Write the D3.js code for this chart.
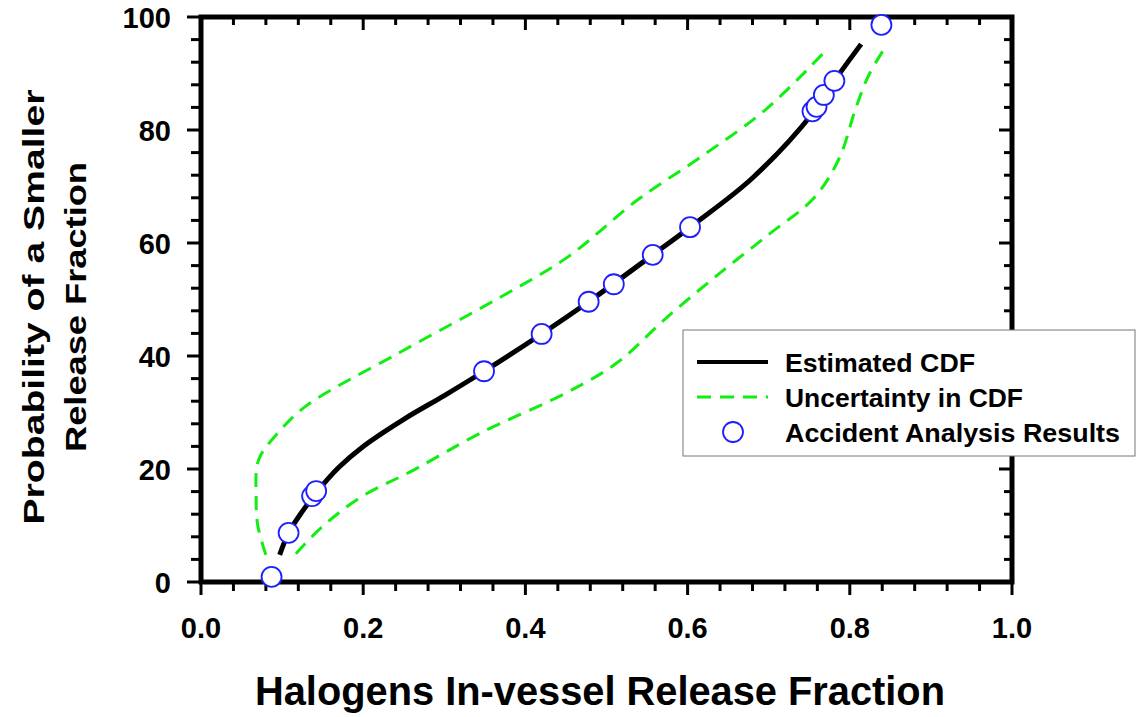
<!DOCTYPE html>
<html>
<head>
<meta charset="utf-8">
<script src="https://cdn.jsdelivr.net/npm/d3@7"></script>
<style>
  body { margin: 0; background: #fff; }
  text { font-family: Arial, "Liberation Sans", sans-serif; font-weight: bold; }
</style>
</head>
<body>
<svg width="1138" height="717"></svg>
<script>
// estimated CDF curve
const cdfX = [0.097, 0.108, 0.125, 0.145, 0.170, 0.200, 0.250, 0.300, 0.349, 0.42, 0.478, 0.557, 0.603, 0.68, 0.755, 0.781, 0.814];
const cdfY = [4.8, 8.7, 12.5, 16.3, 20.3, 24.0, 28.8, 33.0, 37.3, 43.9, 49.6, 57.9, 62.8, 71.5, 83.1, 88.7, 95.2];
// upper uncertainty bound
const upX = [0.080, 0.070, 0.068, 0.071, 0.095, 0.131, 0.246, 0.369, 0.452, 0.538, 0.616, 0.697, 0.770];
const upY = [4.8, 10, 15, 21.6, 26.4, 31.3, 40.7, 50.4, 57.5, 67.6, 75.2, 83.7, 94.0];
// lower uncertainty bound
const loX = [0.117, 0.148, 0.197, 0.262, 0.345, 0.452, 0.513, 0.575, 0.640, 0.700, 0.756, 0.787, 0.807, 0.823, 0.843];
const loY = [5.0, 9.6, 15.0, 19.8, 26.4, 33.6, 38.8, 46.9, 54.7, 61.5, 68.0, 75.0, 83.7, 89.6, 94.5];
// accident analysis results
const ptX = [0.087, 0.108, 0.137, 0.142, 0.349, 0.420, 0.478, 0.509, 0.557, 0.603, 0.754, 0.759, 0.768, 0.781, 0.839];
const ptY = [0.9, 8.7, 15.2, 16.1, 37.3, 43.9, 49.6, 52.7, 57.9, 62.8, 83.3, 84.1, 86.2, 88.7, 98.6];

const xTicks = [0, 0.2, 0.4, 0.6, 0.8, 1.0];
const yTicks = [0, 20, 40, 60, 80, 100];
const legendLabels = ['Estimated CDF', 'Uncertainty in CDF', 'Accident Analysis Results'];

const svg = d3.select('svg');
const mLeft = 201, mRight = 1012, mTop = 17, mBottom = 582;
const x = d3.scaleLinear().domain([0, 1]).range([mLeft, mRight]);
const y = d3.scaleLinear().domain([0, 100]).range([mBottom, mTop]);

const green = '#11ee11';
const blue = '#1e1eff';

// tick labels
svg.append('g').selectAll('text').data(xTicks).join('text')
  .attr('x', d => x(d)).attr('y', 638)
  .attr('text-anchor', 'middle').attr('font-size', 29)
  .text(d => d.toFixed(1));
svg.append('g').selectAll('text').data(yTicks).join('text')
  .attr('x', 171).attr('y', d => y(d) + 10.5)
  .attr('text-anchor', 'end').attr('font-size', 29)
  .text(d => d);

// frame
svg.append('rect')
  .attr('x', mLeft).attr('y', mTop)
  .attr('width', mRight - mLeft).attr('height', mBottom - mTop)
  .attr('fill', 'none').attr('stroke', '#000').attr('stroke-width', 5);

// minor + major ticks
const xMinor = d3.range(0, 1.0001, 0.04);
const yMinor = d3.range(0, 100.001, 4);
const isMajorX = d => Math.abs(d * 5 - Math.round(d * 5)) < 1e-6;
const isMajorY = d => Math.abs(d % 20) < 1e-6;
const tk = svg.append('g').attr('stroke', '#000').attr('stroke-width', 3);
tk.selectAll('line.xb').data(xMinor).join('line').attr('class', 'xb')
  .attr('x1', d => x(d)).attr('x2', d => x(d))
  .attr('y1', mBottom).attr('y2', d => mBottom + (isMajorX(d) ? 13 : 9));
tk.selectAll('line.xt').data(xMinor).join('line').attr('class', 'xt')
  .attr('x1', d => x(d)).attr('x2', d => x(d))
  .attr('y1', mTop).attr('y2', d => mTop + (isMajorX(d) ? 13 : 8));
tk.selectAll('line.yl').data(yMinor).join('line').attr('class', 'yl')
  .attr('y1', d => y(d)).attr('y2', d => y(d))
  .attr('x1', mLeft).attr('x2', d => mLeft - (isMajorY(d) ? 14 : 10));
tk.selectAll('line.yr').data(yMinor).join('line').attr('class', 'yr')
  .attr('y1', d => y(d)).attr('y2', d => y(d))
  .attr('x1', mRight).attr('x2', d => mRight - (isMajorY(d) ? 13 : 8));

const line = d3.line().x(d => x(d[0])).y(d => y(d[1])).curve(d3.curveCatmullRom.alpha(0.5));

svg.append('path').datum(d3.zip(upX, upY)).attr('d', line)
  .attr('fill', 'none').attr('stroke', green).attr('stroke-width', 3).attr('stroke-dasharray', '14,9');
svg.append('path').datum(d3.zip(loX, loY)).attr('d', line)
  .attr('fill', 'none').attr('stroke', green).attr('stroke-width', 3).attr('stroke-dasharray', '14,9');
svg.append('path').datum(d3.zip(cdfX, cdfY)).attr('d', line)
  .attr('fill', 'none').attr('stroke', '#000').attr('stroke-width', 5);

svg.append('g').selectAll('circle').data(d3.zip(ptX, ptY)).join('circle')
  .attr('cx', d => x(d[0])).attr('cy', d => y(d[1])).attr('r', 10)
  .attr('fill', '#fff').attr('stroke', blue).attr('stroke-width', 1.8);

// legend
const lg = svg.append('g');
lg.append('rect').attr('x', 683).attr('y', 330).attr('width', 452).attr('height', 126)
  .attr('fill', '#fff').attr('stroke', '#777').attr('stroke-width', 1);
const rows = [362, 397, 432];
lg.append('line').attr('x1', 697).attr('x2', 768).attr('y1', rows[0]).attr('y2', rows[0])
  .attr('stroke', '#000').attr('stroke-width', 4);
lg.append('line').attr('x1', 697).attr('x2', 768).attr('y1', rows[1]).attr('y2', rows[1])
  .attr('stroke', green).attr('stroke-width', 3).attr('stroke-dasharray', '14,9');
lg.append('circle').attr('cx', 733).attr('cy', rows[2]).attr('r', 10)
  .attr('fill', '#fff').attr('stroke', blue).attr('stroke-width', 1.8);
const labLen = [190, 238, 335];
lg.selectAll('text.lab').data(legendLabels).join('text')
  .attr('class', 'lab')
  .attr('x', 785).attr('y', (d, i) => rows[i] + 10)
  .attr('font-size', 26)
  .attr('textLength', (d, i) => labLen[i]).attr('lengthAdjust', 'spacingAndGlyphs')
  .text(d => d);

// axis titles
svg.append('text').attr('x', 600).attr('y', 705).attr('text-anchor', 'middle')
  .attr('font-size', 41).attr('textLength', 690).attr('lengthAdjust', 'spacingAndGlyphs')
  .text('Halogens In-vessel Release Fraction');
svg.append('text').attr('transform', 'translate(44,307) rotate(-90)').attr('text-anchor', 'middle')
  .attr('font-size', 30).attr('textLength', 435).attr('lengthAdjust', 'spacingAndGlyphs')
  .text('Probability of a Smaller');
svg.append('text').attr('transform', 'translate(86,307) rotate(-90)').attr('text-anchor', 'middle')
  .attr('font-size', 30).attr('textLength', 290).attr('lengthAdjust', 'spacingAndGlyphs')
  .text('Release Fraction');
</script>
</body>
</html>
